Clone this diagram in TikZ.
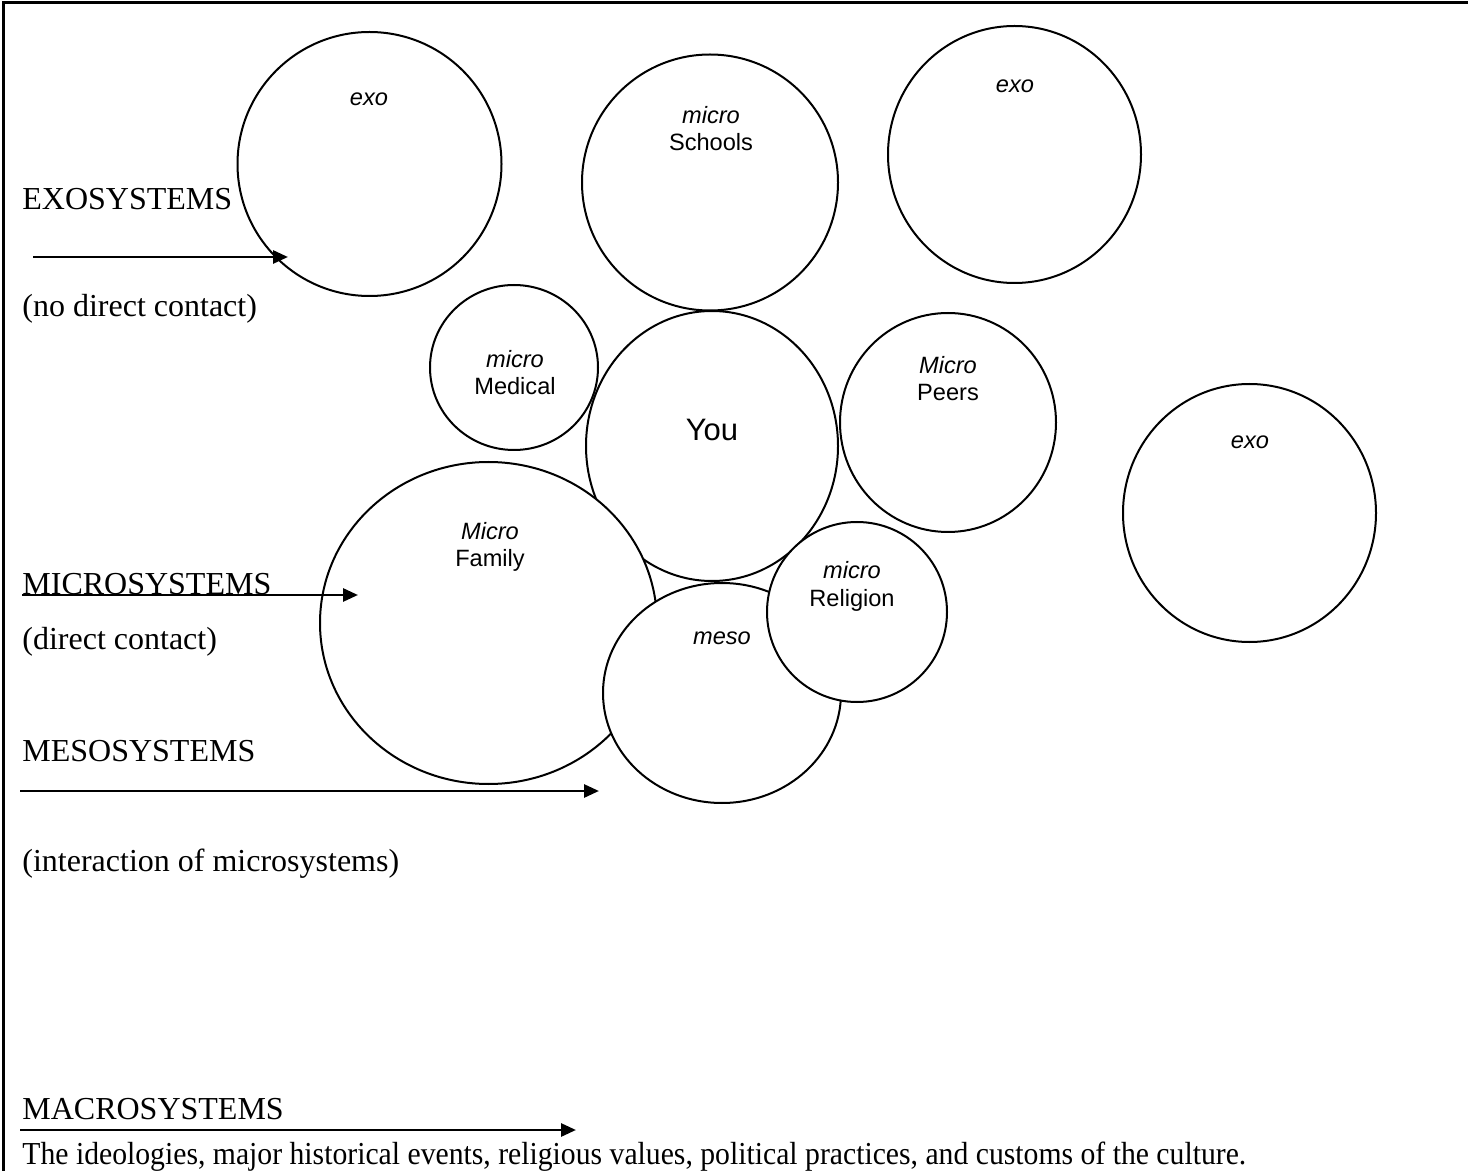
\documentclass[tikz,border=0pt]{standalone}
\usepackage{fontspec}
\usepackage{graphicx}
\setmainfont{Liberation Serif}
\newfontfamily\arial{Liberation Sans}
\usetikzlibrary{arrows.meta,shapes.geometric}
\begin{document}
\begin{tikzpicture}[x=0.5pt,y=-0.5pt,
  sys/.style={draw, fill=white, line width=1pt, ellipse, inner sep=0pt},
  systag/.style={font=\arial\fontsize{11.8}{14}\selectfont\itshape, anchor=base, inner sep=0pt},
  sysname/.style={font=\arial\fontsize{11.8}{14}\selectfont, anchor=base, inner sep=0pt},
  lvl/.style={font=\fontsize{16}{19}\selectfont, anchor=base west, inner sep=0pt},
  pointer/.style={line width=1.4pt, -{Triangle[length=7.5pt,width=6.5pt]}}]
\useasboundingbox (0,0) rectangle (1468,1171);
% page frame
\draw[line width=1.5pt] (3,1171) -- (3,3) -- (1468,3);

% systems, drawn back to front
\node[sys, minimum width=132pt, minimum height=132pt] (exoA) at (369.5,164) {};
\node[sys, minimum width=128pt, minimum height=128pt] (schools) at (710,182.5) {};
\node[sys, minimum width=126.5pt, minimum height=128.5pt] (exoB) at (1014.5,154.5) {};
\node[sys, minimum width=84pt, minimum height=82.5pt] (medical) at (514,367.5) {};
\node[sys, minimum width=126pt, minimum height=135pt] (you) at (712,446) {};
\node[sys, minimum width=108pt, minimum height=109.5pt] (peers) at (948,422.5) {};
\node[sys, minimum width=126.5pt, minimum height=129pt] (exoC) at (1249.5,513) {};
\node[sys, minimum width=168.5pt, minimum height=161pt] (family) at (488.5,623) {};
\node[sys, minimum width=119pt, minimum height=110pt] (meso) at (722,693) {};
\node[sys, minimum width=90pt, minimum height=90pt] (religion) at (857,612) {};

% circle labels
\node[systag] (exoAt) at (369,106) {exo};
\node[systag] (schoolsT) at (711,124) {micro};
\node[sysname] (schoolsN) at (711,151) {Schools};
\node[systag] (exoBt) at (1015,93) {exo};
\node[systag] (medicalT) at (515,368) {micro};
\node[sysname] (medicalN) at (515,395) {Medical};
\node[anchor=base, inner sep=0pt, font=\arial\fontsize{15.5}{18}\selectfont] (youN) at (712,441) {You};
\node[systag] (peersT) at (948,374) {Micro};
\node[sysname] (peersN) at (948,401) {Peers};
\node[systag] (exoCt) at (1250,449) {exo};
\node[systag] (familyT) at (490,540) {Micro};
\node[sysname] (familyN) at (490,567) {Family};
\node[systag] (mesoT) at (722,644) {meso};
\node[systag] (religionT) at (852,579) {micro};
\node[sysname] (religionN) at (852,606) {Religion};

% level captions
\node[lvl] (exoL) at (22,210) {EXOSYSTEMS};
\node[lvl] (exoD) at (22,317) {(no direct contact)};
\node[lvl] (microL) at (22,595) {MICROSYSTEMS};
\node[lvl] (microD) at (22,649) {(direct contact)};
\node[lvl] (mesoL) at (22,761) {MESOSYSTEMS};
\node[lvl] (mesoD) at (22,871) {(interaction of microsystems)};
\node[lvl] (macroL) at (22,1119) {MACROSYSTEMS};
\node[lvl] (macroD) at (22,1164) {\scalebox{0.928}[1]{The ideologies, major historical events, religious values, political practices, and customs of the culture.}};

% pointers
\coordinate (e1) at (33,257);   \coordinate (e2) at (288,257);
\coordinate (m1) at (22,595);   \coordinate (m2) at (358,595);
\coordinate (s1) at (20,791);   \coordinate (s2) at (599,791);
\coordinate (c1) at (20,1130);  \coordinate (c2) at (576,1130);
\draw[pointer] (e1) -- (e2);
\draw[pointer] (m1) -- (m2);
\draw[pointer] (s1) -- (s2);
\draw[pointer] (c1) -- (c2);
\end{tikzpicture}
\end{document}
